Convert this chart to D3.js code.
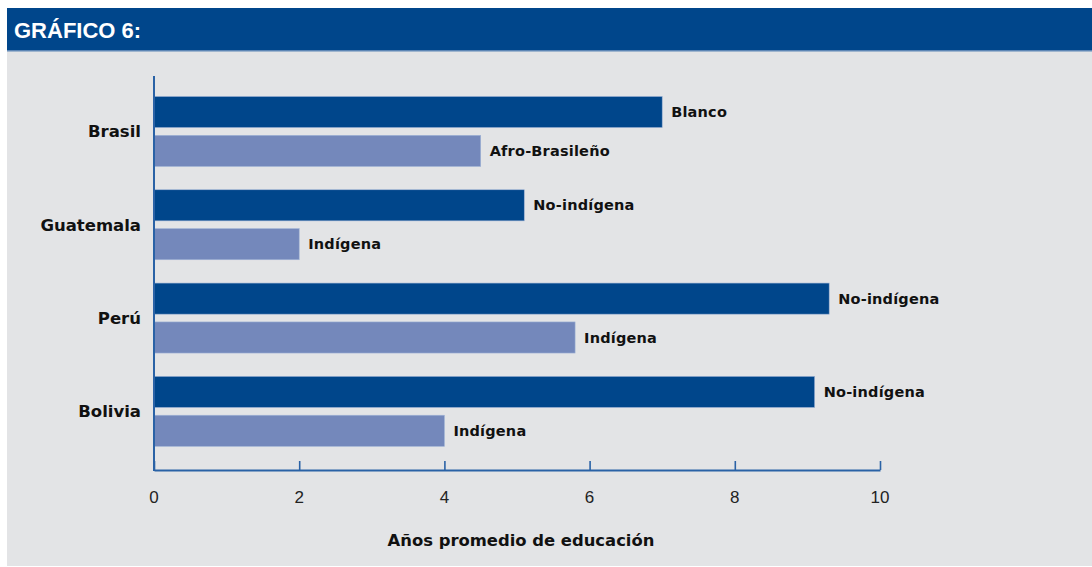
<!DOCTYPE html>
<html>
<head>
<meta charset="utf-8">
<script src="https://cdn.jsdelivr.net/npm/d3@7"></script>
<style>
  body { margin: 0; background: #fff; }
  svg { display: block; }
</style>
</head>
<body>
<div id="chart"></div>
<script>
// datos del gráfico
const paises = ['Brasil', 'Guatemala', 'Perú', 'Bolivia'];
const gruposAltos = ['Blanco', 'No-indígena', 'No-indígena', 'No-indígena'];
const gruposBajos = ['Afro-Brasileño', 'Indígena', 'Indígena', 'Indígena'];
const valoresAltos = [7.0, 5.1, 9.3, 9.1];
const valoresBajos = [4.5, 2.0, 5.8, 4.0];
const ticks = [0, 2, 4, 6, 8, 10];
const titulo = 'GRÁFICO 6:';
const tituloEje = 'Años promedio de educación';

const W = 1092, H = 567;
const azul = '#00468b', azulClaro = '#7488bb', ejeColor = '#2a62a6';

const svg = d3.select('#chart').append('svg')
  .attr('width', W).attr('height', H);

// fondo gris y banda de título
svg.append('rect').attr('x', 7).attr('y', 8).attr('width', W - 7).attr('height', 558)
  .attr('fill', '#e3e4e6');
svg.append('rect').attr('x', 7).attr('y', 8).attr('width', W - 7).attr('height', 43)
  .attr('fill', azul);
svg.append('rect').attr('x', 7).attr('y', 50).attr('width', W - 7).attr('height', 1.5)
  .attr('fill', '#5d86b5');
svg.append('text').attr('x', 14).attr('y', 38)
  .attr('fill', '#fff').attr('font-family', 'Liberation Sans, Arial, sans-serif')
  .attr('font-weight', 'bold').attr('font-size', 22).text(titulo);

const x = d3.scaleLinear().domain([0, 10]).range([154, 880]);
const y = d3.scaleBand().domain(paises).range([84.8, 458]).paddingInner(0.25).paddingOuter(0.125);
const yi = d3.scaleBand().domain(['alto', 'bajo']).range([0, y.bandwidth()]).paddingInner(0.2);

const filas = paises.map((p, i) => ({
  pais: p,
  barras: [
    { k: 'alto', v: valoresAltos[i], g: gruposAltos[i] },
    { k: 'bajo', v: valoresBajos[i], g: gruposBajos[i] }
  ]
}));

const grupo = svg.selectAll('g.pais').data(filas).enter().append('g')
  .attr('class', 'pais')
  .attr('transform', d => `translate(0,${y(d.pais)})`);

grupo.selectAll('rect').data(d => d.barras).enter().append('rect')
  .attr('x', x(0)).attr('y', d => yi(d.k))
  .attr('width', d => x(d.v) - x(0)).attr('height', yi.bandwidth())
  .attr('fill', d => d.k === 'alto' ? azul : azulClaro)
  .attr('stroke', '#9fb3d6').attr('stroke-width', 0.6);

grupo.selectAll('text.g').data(d => d.barras).enter().append('text')
  .attr('class', 'g')
  .attr('x', d => x(d.v) + 9).attr('y', d => yi(d.k) + yi.bandwidth() / 2)
  .attr('dy', '0.35em')
  .attr('font-family', 'DejaVu Sans, sans-serif').attr('font-weight', 'bold')
  .attr('font-size', 14.5).attr('letter-spacing', 0.2).attr('fill', '#111')
  .text(d => d.g);

grupo.append('text')
  .attr('x', 141).attr('y', y.bandwidth() / 2).attr('dy', '0.35em')
  .attr('text-anchor', 'end')
  .attr('font-family', 'DejaVu Sans, sans-serif').attr('font-weight', 'bold')
  .attr('font-size', 16.5).attr('fill', '#111')
  .text(d => d.pais);

// ejes
const ejeX = svg.append('g').attr('transform', 'translate(0,470)')
  .call(d3.axisTop(x).tickValues(ticks).tickSize(9).tickSizeOuter(0).tickFormat(''));
ejeX.select('.domain').attr('stroke', ejeColor).attr('stroke-width', 2);
ejeX.selectAll('.tick line').attr('stroke', ejeColor).attr('stroke-width', 1.6);

svg.append('line').attr('x1', x(0)).attr('x2', x(0)).attr('y1', 76).attr('y2', 471)
  .attr('stroke', ejeColor).attr('stroke-width', 2);

svg.append('g').selectAll('text').data(ticks).enter().append('text')
  .attr('x', d => x(d)).attr('y', 503).attr('text-anchor', 'middle')
  .attr('font-family', 'Liberation Sans, Arial, sans-serif').attr('font-size', 17)
  .attr('fill', '#222').text(d => d);

svg.append('text').attr('x', 521).attr('y', 546).attr('text-anchor', 'middle')
  .attr('font-family', 'DejaVu Sans, sans-serif').attr('font-weight', 'bold')
  .attr('font-size', 16.4).attr('fill', '#111').text(tituloEje);
</script>
</body>
</html>
